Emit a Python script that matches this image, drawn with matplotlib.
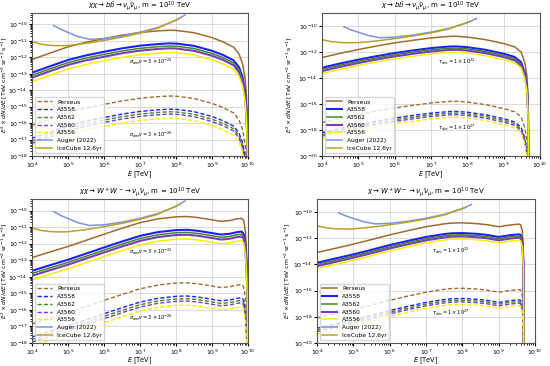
import numpy as np
import matplotlib
matplotlib.use("Agg")
import matplotlib.pyplot as plt

# cluster names / styles
clusters = ["Perseus", "A3558", "A3562", "A3560", "A3556"]
colors = ["#a06a30", "#2020ff", "#3d8a2a", "#7a3fb5", "#f2f200"]
widths = [1.1, 1.5, 1.1, 1.5, 1.1]

# offset of each cluster below Perseus (decades)
shift_ann = [0.0, -0.8, -0.96, -1.1, -1.35]
shift_dec = [0.0, -0.78, -0.91, -1.04, -1.23]

# cross sections / lifetimes (upper solid set, lower dashed set)
sigv = [3e-22, 3e-26]
tau = [1e22, 1e27]

# Perseus spectra, log10(E/TeV) and log10(E^2 dN/dE)
logE_bb_ann = [4.0, 4.5, 5.0, 5.5, 6.0, 6.5, 7.0, 7.5, 7.8, 8.0, 8.5, 9.0, 9.3,
               9.6, 9.75, 9.85, 9.92, 9.96, 9.985, 10.0]
logF_bb_ann = [-12.13, -11.74, -11.36, -11.08, -10.86, -10.65, -10.49, -10.39, -10.35, -10.36,
               -10.5, -10.8, -11.05, -11.38, -11.8, -12.4, -13.3, -14.5, -16.5, -19.5]

logE_bb_dec = [4.0, 4.5, 5.0, 5.5, 6.0, 6.5, 7.0, 7.5, 7.7, 8.0, 8.5, 9.0, 9.3,
               9.48, 9.58, 9.64, 9.67, 9.69]
logF_bb_dec = [-12.43, -12.1, -11.81, -11.54, -11.3, -11.1, -10.92, -10.8, -10.79, -10.85,
               -11.05, -11.35, -11.6, -12.0, -12.8, -13.8, -15.5, -21.5]

logE_ww_ann = [4.0, 4.5, 5.0, 5.5, 6.0, 6.5, 7.0, 7.5, 8.0, 8.3, 8.6, 9.0, 9.25,
               9.5, 9.7, 9.82, 9.88, 9.93, 9.97, 9.99, 10.0]
logF_ww_ann = [-12.84, -12.5, -12.17, -11.8, -11.43, -11.07, -10.73, -10.5, -10.38, -10.36,
               -10.42, -10.56, -10.65, -10.6, -10.5, -10.47, -10.6, -11.3, -13.0, -15.5, -19.5]

logE_ww_dec = [4.0, 4.5, 5.0, 5.5, 6.0, 6.5, 7.0, 7.5, 7.7, 8.0, 8.4, 8.7, 9.0, 9.3,
               9.55, 9.6, 9.65, 9.68, 9.695]
logF_ww_dec = [-13.09, -12.77, -12.45, -12.1, -11.74, -11.42, -11.12, -10.9, -10.84, -10.82,
               -10.88, -10.97, -11.12, -10.99, -10.92, -10.95, -11.4, -13.0, -21.5]

# experimental limits
logE_auger = [4.6, 4.8, 5.0, 5.3, 5.6, 6.0, 6.5, 7.0, 7.5, 8.0, 8.25]
logF_auger = [-10.06, -10.3, -10.48, -10.75, -10.9, -10.86, -10.7, -10.47, -10.18, -9.75, -9.42]
logE_ice = [4.0, 4.25, 4.5, 4.75, 5.0, 5.5, 6.0, 6.5, 7.0, 7.5, 8.0, 8.1]
logF_ice = [-11.05, -11.2, -11.27, -11.29, -11.28, -11.15, -10.97, -10.77, -10.53, -10.22, -9.72, -9.62]

fig = plt.figure(figsize=(5.5, 3.66), dpi=100)


def panel(rect, logE, logF, shift, ratio, title, txt, txt_pos, ylim, yticks, dashed_legend, ylab_x, xlab_y):
    ax = fig.add_axes(rect)
    E = 10 ** np.array(logE)
    for name, c, lw, s in zip(clusters, colors, widths, shift):
        f = 10 ** (np.array(logF) + s)
        ax.plot(E, f, color=c, lw=lw, label=None if dashed_legend else name)
        ax.plot(E, f * ratio, color=c, lw=1.0, ls=(0, (3, 1.6)),
                label=name if dashed_legend else None)
    ax.plot(10 ** np.array(logE_auger), 10 ** np.array(logF_auger), color="#7b93dc", lw=1.1,
            label="Auger (2022)")
    ax.plot(10 ** np.array(logE_ice), 10 ** np.array(logF_ice), color="#b8a32a", lw=1.1,
            label="IceCube 12.6yr")
    ax.set_xscale("log")
    ax.set_yscale("log")
    ax.set_xlim(1e4, 1e10)
    ax.set_ylim(*ylim)
    ax.set_xticks([1e4, 1e5, 1e6, 1e7, 1e8, 1e9, 1e10])
    ax.set_yticks(yticks)
    ax.tick_params(labelsize=4.5, length=2.5, pad=0.8)
    ax.tick_params(which="minor", length=1.5)
    for s in ax.spines.values():
        s.set_color("#555555")
    ax.grid(True, which="major", color="#cccccc", lw=0.5)
    ax.set_title(title, fontsize=5, pad=1.5)
    ax.set_xlabel("$E$ [TeV]", fontsize=4.8)
    ax.set_ylabel(r"$E^2\times dN/dE$ [TeV cm$^{-2}$ sr$^{-1}$ s$^{-1}$]", fontsize=4.4)
    ax.yaxis.set_label_coords(ylab_x, 0.5)
    ax.xaxis.set_label_coords(0.5, xlab_y)
    for t, p in zip(txt, txt_pos):
        ax.text(p[0], p[1], t, fontsize=3.6, va="center")
    ax.legend(loc="lower left", fontsize=4.2, labelspacing=0.45, handlelength=2.6,
              borderpad=0.4, framealpha=0.8, edgecolor="#cccccc", fancybox=True)
    return ax


ann_txt = [r"$\sigma_{ann}v = 3\times10^{-22}$", r"$\sigma_{ann}v = 3\times10^{-26}$"]
dec_txt = [r"$\tau_{dec} = 1\times10^{22}$", r"$\tau_{dec} = 1\times10^{27}$"]
yt_ann = [10.0 ** k for k in range(-18, -9)]
yt_dec = [10.0 ** k for k in range(-20, -9, 2)]

panel([32 / 550, 1 - 156 / 366, 216 / 550, 143 / 366], logE_bb_ann, logF_bb_ann, shift_ann,
      sigv[1] / sigv[0], r"$\chi\chi\rightarrow b\bar{b}\rightarrow\nu_\mu\bar{\nu}_\mu$, m = $10^{10}$ TeV",
      ann_txt, [(5e6, 5e-13), (5e6, 2e-17)], (1e-18, 5e-10), yt_ann, True, -0.105, -0.097)
panel([322 / 550, 1 - 156 / 366, 218 / 550, 143 / 366], logE_bb_dec, logF_bb_dec, shift_dec,
      tau[0] / tau[1], r"$\chi\rightarrow b\bar{b}\rightarrow\nu_\mu\bar{\nu}_\mu$, m = $10^{10}$ TeV",
      dec_txt, [(1.6e7, 1.7e-13), (1.6e7, 1.4e-18)], (1e-20, 1e-9), yt_dec, False, -0.13, -0.097)
panel([32 / 550, 1 - 343 / 366, 216 / 550, 144 / 366], logE_ww_ann, logF_ww_ann, shift_ann,
      sigv[1] / sigv[0], r"$\chi\chi\rightarrow W^+W^-\rightarrow\nu_\mu\bar{\nu}_\mu$, m = $10^{10}$ TeV",
      ann_txt, [(5e6, 3e-13), (5e6, 3.4e-17)], (1e-18, 5e-10), yt_ann, True, -0.105, -0.09)
panel([317 / 550, 1 - 343 / 366, 218 / 550, 144 / 366], logE_ww_dec, logF_ww_dec, shift_dec,
      tau[0] / tau[1], r"$\chi\rightarrow W^+W^-\rightarrow\nu_\mu\bar{\nu}_\mu$, m = $10^{10}$ TeV",
      dec_txt, [(1.5e7, 1e-13), (1.5e7, 1.9e-18)], (1e-20, 1e-9), yt_dec, False, -0.115, -0.09)

fig.savefig("out.png", dpi=100)
